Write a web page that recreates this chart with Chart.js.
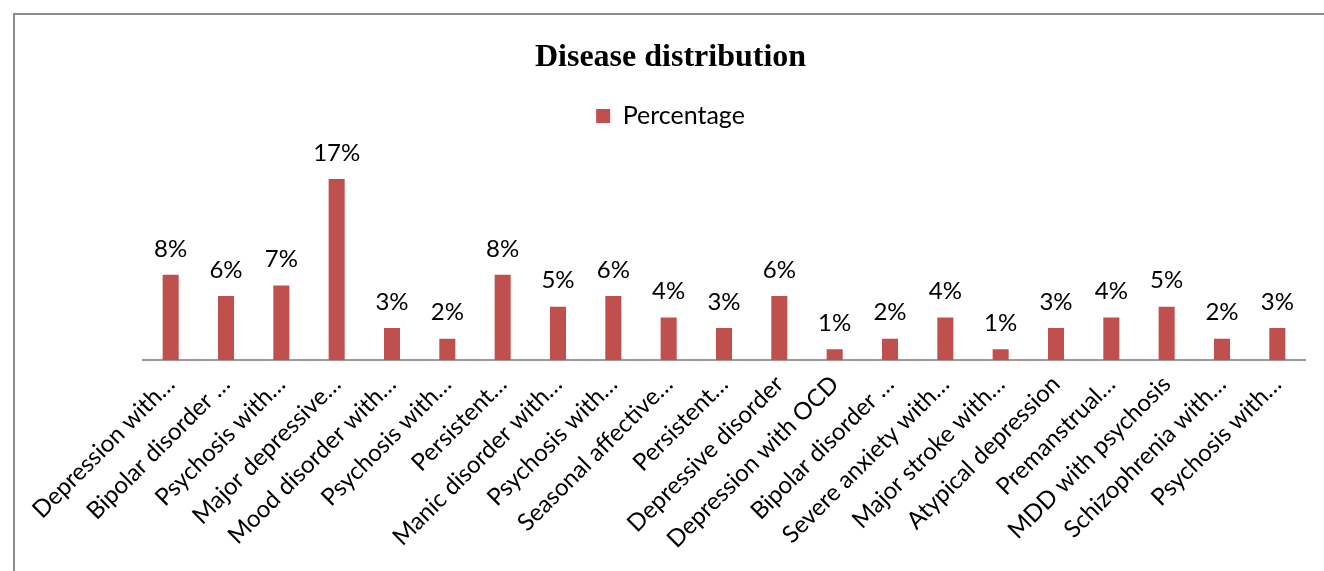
<!DOCTYPE html>
<html>
<head>
<meta charset="utf-8">
<script src="https://cdn.jsdelivr.net/npm/chart.js"></script>
<style>
  html, body { margin: 0; padding: 0; background: #fff; overflow: hidden; }
  #frame {
    position: absolute; left: 13px; top: 13px;
    width: 1320px; height: 570px;
    border-top: 2px solid #8c8c8c; border-left: 2px solid #8c8c8c;
  }
  #box { position: absolute; left: 0; top: 0; width: 1311px; height: 556px; }
</style>
</head>
<body>
<div id="frame"><div id="box"><canvas id="chartBenh"></canvas></div></div>
<script>
// du lieu doc tu hinh
const categories = [
  'Depression with…', 'Bipolar disorder …', 'Psychosis with…', 'Major depressive…',
  'Mood disorder with…', 'Psychosis with…', 'Persistent…', 'Manic disorder with…',
  'Psychosis with…', 'Seasonal affective…', 'Persistent…', 'Depressive disorder',
  'Depression with OCD', 'Bipolar disorder …', 'Severe anxiety with…', 'Major stroke with…',
  'Atypical depression', 'Premanstrual…', 'MDD with psychosis', 'Schizophrenia with…',
  'Psychosis with…'
];
const percentage = [8, 6, 7, 17, 3, 2, 8, 5, 6, 4, 3, 6, 1, 2, 4, 1, 3, 4, 5, 2, 3];

const textFont = 'Lato, "Open Sans", sans-serif';

// ve nhan % tren moi cot
const valueLabels = {
  id: 'valueLabels',
  afterDatasetsDraw(chart) {
    const ctx = chart.ctx;
    const meta = chart.getDatasetMeta(0);
    ctx.save();
    ctx.font = '24px ' + textFont;
    ctx.fillStyle = '#000';
    ctx.textAlign = 'center';
    ctx.textBaseline = 'bottom';
    meta.data.forEach((bar, i) => {
      ctx.fillText(percentage[i] + '%', bar.x, bar.y - 14);
    });
    ctx.restore();
  }
};

new Chart(document.getElementById('chartBenh'), {
  type: 'bar',
  data: {
    labels: categories,
    datasets: [{
      label: 'Percentage',
      data: percentage,
      backgroundColor: '#C0504D',
      categoryPercentage: 1,
      barPercentage: 0.29
    }]
  },
  options: {
    responsive: true,
    maintainAspectRatio: false,
    animation: false,
    layout: { padding: 0 },
    plugins: {
      title: {
        display: true,
        text: 'Disease distribution',
        color: '#000',
        font: { family: '"Liberation Serif", "Times New Roman", serif', size: 32, weight: 'bold' },
        padding: { top: 24, bottom: 16 }
      },
      legend: {
        display: true,
        labels: {
          color: '#000',
          font: { family: textFont, size: 25 },
          boxWidth: 14, boxHeight: 14,
          padding: 10
        }
      },
      tooltip: { enabled: false }
    },
    scales: {
      x: {
        grid: { display: false, drawTicks: false },
        border: { display: true, color: '#9a9a9a', width: 2 },
        ticks: {
          color: '#000',
          font: { family: textFont, size: 24 },
          maxRotation: 45, minRotation: 45,
          autoSkip: false,
          padding: 10
        },
        afterFit(s) { s.paddingLeft = 128; s.paddingRight = 21; s.height = 211; }
      },
      y: {
        display: false,
        min: 0,
        max: 20.8
      }
    }
  },
  plugins: [valueLabels]
});
</script>
</body>
</html>
